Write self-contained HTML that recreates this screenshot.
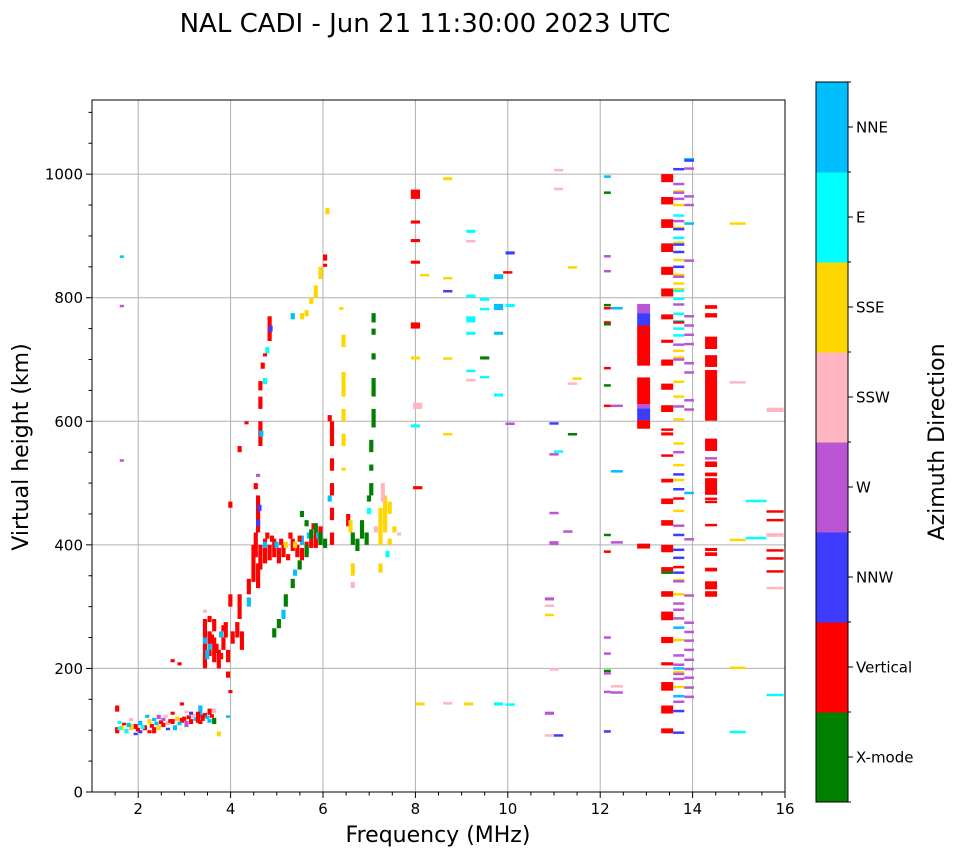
<!DOCTYPE html>
<html><head><meta charset="utf-8">
<style>
body{margin:0;background:#fff;}
svg text{font-family:"DejaVu Sans","Liberation Sans",sans-serif;fill:#000;}
</style></head>
<body>
<svg id="chart" width="958" height="857" viewBox="0 0 958 857" xmlns="http://www.w3.org/2000/svg">
<text x="425" y="32" font-size="26" text-anchor="middle">NAL CADI - Jun 21 11:30:00 2023 UTC</text>
<g id="grid"></g>
<g id="marks"></g>
<g id="axes"></g>
<text x="438" y="842" font-size="22" text-anchor="middle">Frequency (MHz)</text>
<text transform="translate(28,447) rotate(-90)" font-size="22" text-anchor="middle">Virtual height (km)</text>
<g id="cbar"></g>
<text transform="translate(944,442) rotate(-90)" font-size="22" text-anchor="middle">Azimuth Direction</text>
</svg>
<script>
const dirNames = ["X-mode","Vertical","NNW","W","SSW","SSE","E","NNE"];
const dirColors = ["#008000","#ff0000","#3c3cff","#ba55d3","#ffb6c1","#ffd700","#00ffff","#00bfff"];
const xTicks = [2,4,6,8,10,12,14,16];
const yTicks = [0,200,400,600,800,1000];
const xDomain = [1,16];
const yDomain = [0,1120];

// point cells: [freq MHz, height low km, height high km, direction index]
const pointCells = [
[1.5,95,105,1],[1.5,130,140,1],[1.55,110,115,6],[1.6,100,108,5],[1.7,95,102,6],[1.8,100,110,5],[1.9,102,110,1],[2.0,95,100,2],[2.0,108,115,7],[2.1,100,108,1],[2.2,110,118,5],[2.3,95,105,1],[2.3,115,120,7],[2.4,100,108,5],[2.5,105,112,1],[2.6,108,115,4],[2.7,110,118,1],[2.75,100,108,7],[2.8,115,122,5],[2.9,112,120,1],[3.0,105,115,3],[3.1,110,118,1],[3.2,115,122,7],[3.3,120,140,7],[3.35,115,125,1],[3.4,120,128,1],[3.5,125,135,1],[3.5,112,118,7],[3.6,110,120,0],[3.6,128,135,4],[3.7,90,98,5],[2.55,120,125,4],[2.2,95,100,1],[1.8,115,120,4],[2.9,140,145,1],[3.9,120,124,7],[2.15,120,125,7],[2.4,118,125,3],[3.25,112,130,1],[1.65,108,112,1],[3.0,128,132,4],[1.6,865,868,7],[1.6,785,788,3],[1.6,535,538,3],
[1.55,100,106,6],[1.75,105,112,7],[1.95,98,104,1],[2.05,102,108,6],[2.25,104,110,1],[2.35,108,114,7],[2.45,110,116,1],[2.65,112,118,1],[2.85,108,114,7],[2.95,115,122,1],[3.05,118,124,1],[3.15,120,126,4],[3.3,110,116,1],[3.45,118,124,7],[3.55,120,126,1],[2.6,100,104,2],[2.5,115,120,3],[3.1,125,130,2],[1.9,92,96,2],[2.7,125,130,1],
[3.4,200,280,1],[3.5,220,260,1],[3.6,210,250,1],[3.4,240,250,7],[3.5,230,240,7],[3.7,200,230,1],[3.8,230,250,1],[3.85,250,275,1],[3.9,210,230,1],[3.6,260,280,1],[3.75,250,260,7],[3.4,290,295,4],[3.95,300,320,1],[4.1,250,275,1],[4.2,230,260,1],[4.15,280,320,1],[2.7,210,215,1],[2.85,205,210,1],[3.9,185,195,1],[3.95,160,165,1],
[3.45,215,230,7],[3.55,240,255,1],[3.65,225,240,1],[3.75,215,225,1],[3.8,260,270,1],[4.0,240,260,1],[3.5,275,285,1],
[4.35,320,345,1],[4.35,300,315,7],[4.45,340,400,1],[4.5,380,420,1],[4.55,330,370,1],[4.6,360,400,1],[4.7,370,410,1],[4.8,375,400,1],[4.9,380,410,1],[5.0,370,395,1],[5.1,380,400,1],[5.2,375,385,1],[5.3,390,410,1],[5.4,380,400,1],[5.5,375,395,1],[5.6,385,405,1],[5.7,395,415,1],[5.8,395,420,1],[5.9,400,430,1],[5.5,400,415,7],[5.35,395,405,5],[4.7,395,405,7],[4.55,420,480,1],[4.55,430,440,2],[4.58,455,465,2],[4.5,490,500,1],[4.55,510,515,3],[4.15,550,560,1],[4.6,560,600,1],[4.62,575,585,7],[4.6,620,640,1],[4.6,650,665,1],[4.65,685,695,1],[4.7,660,670,6],[4.75,710,720,6],[4.8,730,770,1],[4.82,745,755,2],[4.7,705,710,1],[4.3,595,600,1],[3.95,460,470,1],
[4.75,410,420,1],[4.85,405,415,1],[5.05,400,410,1],[5.25,410,420,1],[5.45,405,415,1],[5.65,410,420,7],[5.75,425,435,1],[5.85,410,420,7],[4.95,395,405,7],[5.15,395,405,5],
[4.9,250,265,0],[5.0,265,280,0],[5.1,280,295,7],[5.15,300,320,0],[5.3,330,345,0],[5.35,350,360,7],[5.45,360,375,0],[5.6,380,400,0],[5.7,410,425,0],[5.8,420,435,0],[5.6,430,440,0],[5.5,445,455,0],[5.9,400,420,0],[6.0,395,410,0],
[5.3,765,775,7],[5.5,765,775,5],[5.6,770,780,5],[5.7,790,800,5],[5.8,800,820,5],[5.9,830,850,5],[6.0,860,870,1],[6.05,935,945,5],[6.0,850,855,1],
[6.15,560,600,1],[6.15,400,420,1],[6.15,440,460,1],[6.15,480,500,1],[6.15,520,540,1],[6.1,600,610,1],[6.1,470,480,7],
[6.4,720,740,5],[6.4,640,680,5],[6.4,600,620,5],[6.4,560,580,5],[6.4,520,525,5],[6.35,780,785,5],[6.5,430,450,1],[6.55,420,440,5],[6.6,400,420,0],[6.7,390,410,0],[6.8,410,440,0],[6.6,330,340,4],[6.6,350,370,5],[6.9,400,420,0],[6.95,470,480,0],
[7.05,760,775,0],[7.05,740,750,0],[7.05,700,710,0],[7.05,640,670,0],[7.05,590,620,0],[7.0,550,570,0],[7.0,520,530,0],[7.0,480,500,0],[6.95,450,460,6],
[7.2,400,460,5],[7.3,420,480,5],[7.25,470,500,4],[7.4,450,470,5],[7.4,400,410,5],[7.1,420,430,4],[7.5,420,430,5],[7.35,380,390,6],[7.2,355,370,5],[7.6,415,420,4],
[7.9,960,975,1],[7.9,920,925,1],[7.9,890,895,1],[7.9,855,860,1],[7.9,750,760,1],[7.9,700,705,5],[7.95,620,630,4],[7.9,590,595,6],[7.95,490,495,1],[8.0,140,145,5],[8.1,835,838,5],[8.6,990,995,5],[8.6,830,833,5],[8.6,810,811,2],[8.6,700,703,5],[8.6,578,580,5],[8.6,142,145,4],[9.1,905,910,6],[9.1,890,893,4],[9.1,800,805,6],[9.1,760,770,6],[9.1,740,745,6],[9.1,680,683,6],[9.1,665,668,4],[9.05,140,145,5],[9.4,795,800,6],[9.4,780,783,6],[9.4,700,705,0],[9.4,670,673,6],[9.7,830,838,7],[9.7,780,790,7],[9.7,740,745,7],[9.7,640,645,6],[9.7,140,145,6],[9.95,870,875,2],[9.95,785,790,6],[9.95,595,597,3],[9.95,140,143,6],[9.9,840,842,1],[10.8,310,315,3],[10.8,300,303,4],[10.8,285,288,5],[10.8,125,130,3],[10.8,90,93,4],[10.9,595,598,2],[10.9,545,548,3],[10.9,450,453,3],[10.9,400,406,3],[10.9,197,200,4],[11.0,1005,1008,4],[11.0,975,977,4],[11.0,550,552,6],[11.0,90,93,2],[11.2,420,423,3],[11.3,848,850,5],[11.4,668,670,5],[11.3,660,662,4],[11.3,578,580,0]
];

// block columns: [freq low, freq high, height low, height high, direction]
const blockCells = [
[12.8,13.08,775,790,3],[12.8,13.08,755,775,2],[12.8,13.08,690,755,1],[12.8,13.08,628,671,1],[12.8,13.08,621,628,3],[12.8,13.08,602,621,2],[12.8,13.08,588,602,1],[12.8,13.08,394,402,1],
[13.32,13.58,987,1000,1],[13.32,13.58,951,963,1],[13.32,13.58,913,927,1],[13.32,13.58,874,888,1],[13.32,13.58,837,850,1],[13.32,13.58,802,815,1],[13.32,13.58,765,773,1],[13.32,13.58,727,732,1],[13.32,13.58,690,700,1],[13.32,13.58,651,661,1],[13.32,13.58,615,626,1],[13.32,13.58,585,588,1],[13.32,13.58,577,582,1],[13.32,13.58,543,546,1],[13.32,13.58,501,507,1],[13.32,13.58,466,475,1],[13.32,13.58,431,440,1],[13.32,13.58,388,400,1],[13.32,13.58,357,364,1],[13.32,13.58,353,357,0],[13.32,13.58,316,325,1],[13.32,13.58,278,292,1],[13.32,13.58,241,251,1],[13.32,13.58,205,210,1],[13.32,13.58,164,178,1],[13.32,13.58,127,140,1],[13.32,13.58,95,103,1],
[14.27,14.53,782,788,1],[14.27,14.53,768,775,1],[14.27,14.53,717,737,1],[14.27,14.53,688,707,1],[14.27,14.53,601,683,1],[14.27,14.53,562,566,1],[14.27,14.53,552,572,1],[14.27,14.53,538,542,3],[14.27,14.53,526,535,1],[14.27,14.53,511,517,1],[14.27,14.53,481,508,1],[14.27,14.53,473,476,1],[14.27,14.53,468,471,1],[14.27,14.53,431,433,1],[14.27,14.53,390,395,1],[14.27,14.53,382,388,1],[14.27,14.53,357,363,1],[14.27,14.53,328,341,1],[14.27,14.53,316,325,1],
[15.6,15.97,615,622,4],[15.6,15.97,413,419,4]
];

// thin line columns
const lineColumns = [[13.58,13.82],[13.82,14.03],[12.08,12.23],[12.23,12.49],[14.8,15.15],[15.15,15.6],[15.6,15.97]];
const lineHeights = [
[1008,984,972,970,960,950,933,924,913,911,897,889,886,874,861,850,837,834,823,814,811,798,789,774,762,760,750,739,724,714,703,700,664,640,624,603,564,550,529,514,505,490,475,455,431,416,392,379,364,355,343,341,320,305,295,281,266,246,221,206,200,194,191,183,170,155,146,131,96],
[1024,1022,1009,964,950,920,860,770,755,740,725,694,679,634,619,484,409,318,274,259,245,230,214,199,185,169,154],
[996,970,867,843,788,783,760,757,686,658,625,416,389,250,224,196,192,162,98],
[783,625,519,404,171,161],
[920,663,408,201,97],
[471,411],
[454,440,391,378,357,330,157]
];
const lineDirs = [
[2,3,5,3,3,5,6,3,5,2,6,5,2,2,5,2,5,3,5,5,6,6,3,6,6,1,6,6,3,5,5,3,5,5,3,5,5,3,5,2,5,2,1,5,3,2,2,2,1,2,5,3,5,3,3,3,7,5,3,3,7,5,3,3,5,7,3,2,2],
[7,2,3,3,3,7,3,3,3,3,3,3,3,3,3,7,3,3,3,3,3,3,3,3,3,3,3],
[7,0,3,3,0,1,1,0,1,0,1,0,1,3,3,0,3,3,2],
[7,3,7,3,4,3],
[5,4,5,5,6],
[6,6],
[1,1,1,1,1,4,6]
];

const NS = "http://www.w3.org/2000/svg";
const PL = 92, PR = 785, PT = 100, PB = 792;
function xs(f){ return PL + (f - xDomain[0]) / (xDomain[1] - xDomain[0]) * (PR - PL); }
function ys(h){ return PB - (h - yDomain[0]) / (yDomain[1] - yDomain[0]) * (PB - PT); }
function mk(tag, attrs, parent){ const e = document.createElementNS(NS, tag); for (const k in attrs) e.setAttribute(k, attrs[k]); parent.appendChild(e); return e; }

const grid = document.getElementById('grid');
const marks = document.getElementById('marks');
const axes = document.getElementById('axes');
const cbar = document.getElementById('cbar');

xTicks.forEach(t => {
  if (t > xDomain[0] && t < xDomain[1]) {
    const l = mk('line', {x1: xs(t), x2: xs(t), y1: PT, y2: PB, stroke: '#b0b0b0', 'stroke-width': 1}, grid);
    
    
  }
});
yTicks.forEach(t => {
  if (t > yDomain[0]) {
    const l = mk('line', {x1: PL, x2: PR, y1: ys(t), y2: ys(t), stroke: '#b0b0b0', 'stroke-width': 1}, grid);
    
    
  }
});

function cell(f0, f1, h0, h1, d, name){
  const x0 = xs(f0), x1 = xs(f1);
  let y0 = ys(h1), y1 = ys(h0);
  if (y1 - y0 < 2.5) { const c = (y0 + y1) / 2; y0 = c - 1.25; y1 = c + 1.25; }
  const r = mk('rect', {x: x0, y: y0, width: Math.max(1, x1 - x0), height: y1 - y0, fill: dirColors[d]}, marks);
  
  
}
pointCells.forEach(p => {
  const w = p[0] < 7.7 ? 0.09 : 0.2;
  cell(p[0], p[0] + w, p[1], p[2], p[3], 'echo-cell-' + dirNames[p[3]].toLowerCase());
});
blockCells.forEach(b => cell(b[0], b[1], b[2], b[3], b[4], 'echo-block-' + dirNames[b[4]].toLowerCase()));
lineColumns.forEach((c, i) => {
  lineHeights[i].forEach((h, j) => cell(c[0], c[1], h - 1.5, h + 1.5, lineDirs[i][j], 'echo-line-' + dirNames[lineDirs[i][j]].toLowerCase()));
});

const fr = mk('rect', {x: PL, y: PT, width: PR - PL, height: PB - PT, fill: 'none', stroke: '#000', 'stroke-width': 1}, axes);


for (let f = 1.5; f < 16; f += 0.5) {
  if (Math.abs(f - Math.round(f / 2) * 2) < 1e-6) continue;
  const t = mk('line', {x1: xs(f), x2: xs(f), y1: PB, y2: PB + 3.5, stroke: '#000'}, axes);
  
  
}
for (let h = 50; h < 1120; h += 50) {
  if (h % 200 === 0) continue;
  const t = mk('line', {x1: PL - 3.5, x2: PL, y1: ys(h), y2: ys(h), stroke: '#000'}, axes);
  
  
}
xTicks.forEach(t => {
  const l = mk('line', {x1: xs(t), x2: xs(t), y1: PB, y2: PB + 6, stroke: '#000'}, axes);
  
  
  const tx = mk('text', {x: xs(t), y: PB + 22, 'font-size': 15, 'text-anchor': 'middle'}, axes);
  tx.textContent = t;
  
  
});
yTicks.forEach(t => {
  const l = mk('line', {x1: PL - 6, x2: PL, y1: ys(t), y2: ys(t), stroke: '#000'}, axes);
  
  
  const tx = mk('text', {x: PL - 9, y: ys(t) + 5.5, 'font-size': 15, 'text-anchor': 'end'}, axes);
  tx.textContent = t;
  
  
});

const CB = {x: 816, w: 32, top: 82, bottom: 802};
const seg = (CB.bottom - CB.top) / dirNames.length;
dirNames.forEach((n, i) => {
  const y0 = CB.bottom - (i + 1) * seg;
  const r = mk('rect', {x: CB.x, y: y0, width: CB.w, height: seg + 0.5, fill: dirColors[i]}, cbar);
  
  
  const tk = mk('line', {x1: CB.x + CB.w, x2: CB.x + CB.w + 5, y1: y0 + seg / 2, y2: y0 + seg / 2, stroke: '#000'}, cbar);
  
  
  const tx = mk('text', {x: CB.x + CB.w + 8, y: y0 + seg / 2 + 5.5, 'font-size': 15}, cbar);
  tx.textContent = n;
  
  
});
for (let i = 0; i <= dirNames.length; i++) {
  const y = CB.top + i * seg;
  const tk = mk('line', {x1: CB.x + CB.w, x2: CB.x + CB.w + 3, y1: y, y2: y, stroke: '#000'}, cbar);
  
  
}
const cbf = mk('rect', {x: CB.x, y: CB.top, width: CB.w, height: CB.bottom - CB.top, fill: 'none', stroke: '#000'}, cbar);


</script>
</body></html>
